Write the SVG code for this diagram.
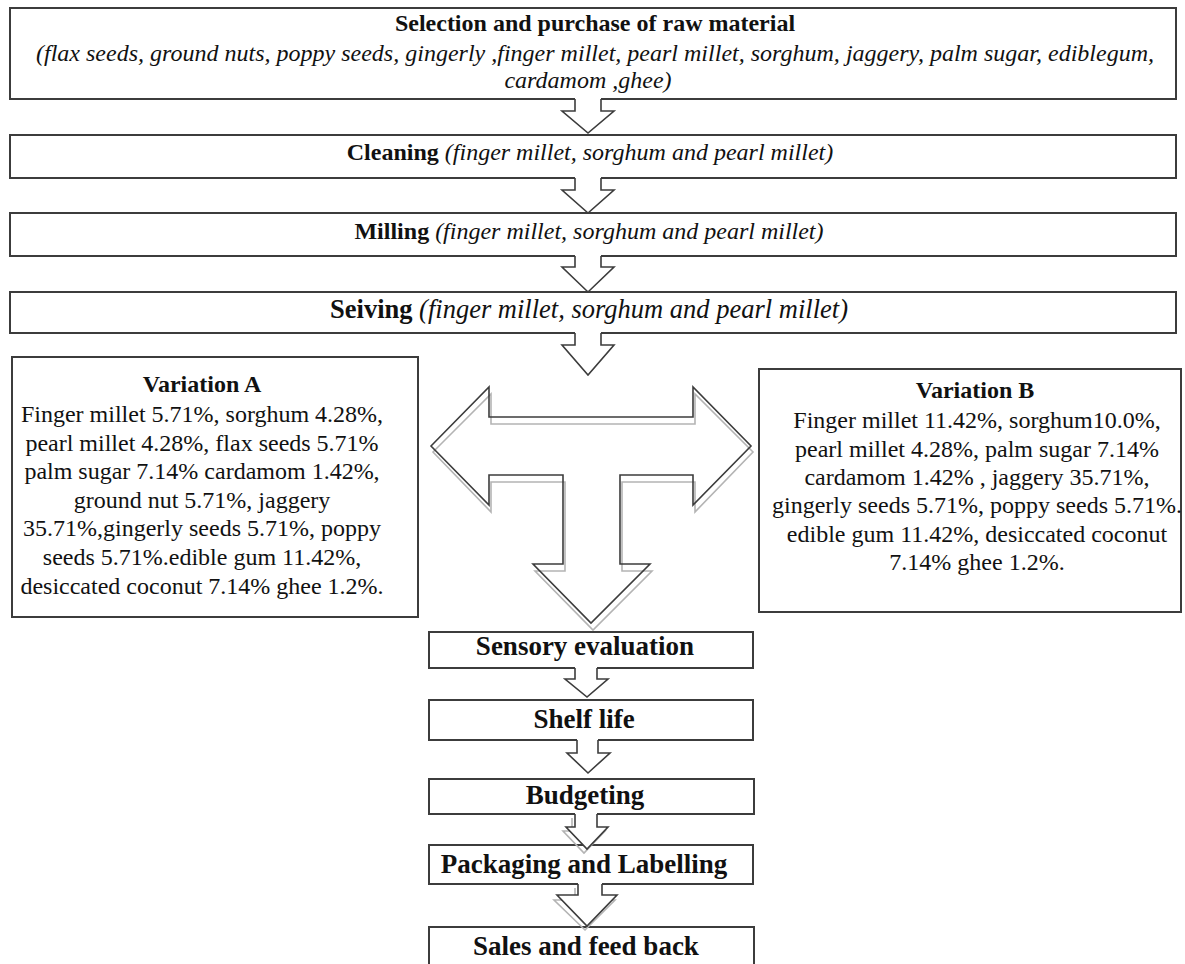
<svg xmlns="http://www.w3.org/2000/svg" width="1185" height="964" viewBox="0 0 1185 964">
<style>
.box{fill:#fff;stroke:#3c3c3c;stroke-width:2}
.af{fill:#fff;stroke:none}
.as{fill:none;stroke:#3c3c3c;stroke-width:1.6;stroke-linejoin:miter}
.sh{fill:none;stroke:#b4b4b4;stroke-width:1.6}
.t{font-family:"Liberation Serif","Times New Roman",serif;fill:#111}
.b{font-weight:bold}
.i{font-style:italic}
.v{font-size:24px;text-anchor:middle}
.s{font-size:27px;font-weight:bold;text-anchor:middle}
</style>
<rect width="1185" height="964" fill="#fff"/>
<g id="n1">
<rect class="box" x="10" y="8" width="1166" height="91"/>
<text class="t b" x="595" y="31" font-size="24" text-anchor="middle">Selection and purchase of raw material</text>
<text class="t i" x="595" y="61" font-size="24" text-anchor="middle" textLength="1118" lengthAdjust="spacing">(flax seeds, ground nuts, poppy seeds, gingerly ,finger millet, pearl millet,  sorghum, jaggery, palm sugar, ediblegum,</text>
<text class="t i" x="588" y="88" font-size="24" text-anchor="middle">cardamom ,ghee)</text>
</g>
<g id="n2">
<rect class="box" x="10" y="135" width="1166" height="43"/>
<text class="t" x="590" y="160" font-size="24" text-anchor="middle"><tspan class="b">Cleaning</tspan><tspan class="i"> (finger millet, sorghum and pearl millet)</tspan></text>
</g>
<g id="n3">
<rect class="box" x="10" y="213" width="1166" height="43"/>
<text class="t" x="589" y="239" font-size="24" text-anchor="middle"><tspan class="b">Milling</tspan><tspan class="i"> (finger millet, sorghum and pearl millet)</tspan></text>
</g>
<g id="n4">
<rect class="box" x="10" y="292" width="1166" height="41"/>
<text class="t" x="589" y="318" font-size="26.5" text-anchor="middle"><tspan class="b">Seiving</tspan><tspan class="i"> (finger millet, sorghum and pearl millet)</tspan></text>
</g>
<g id="nA">
<rect class="box" x="12" y="357" width="406" height="260"/>
<text class="t v b" x="202" y="392">Variation A</text>
<text class="t v" x="202" y="422">Finger millet 5.71%, sorghum 4.28%,</text>
<text class="t v" x="202" y="451">pearl millet  4.28%, flax seeds 5.71%</text>
<text class="t v" x="202" y="479">palm sugar 7.14% cardamom  1.42%,</text>
<text class="t v" x="202" y="508">ground nut 5.71%, jaggery</text>
<text class="t v" x="202" y="536">35.71%,gingerly seeds 5.71%, poppy</text>
<text class="t v" x="202" y="565">seeds 5.71%.edible gum 11.42%,</text>
<text class="t v" x="202" y="594">desiccated  coconut 7.14% ghee 1.2%.</text>
</g>
<g id="nB">
<rect class="box" x="759" y="369" width="422" height="243"/>
<text class="t v b" x="975" y="398">Variation B</text>
<text class="t v" x="977" y="428">Finger millet 11.42%, sorghum10.0%,</text>
<text class="t v" x="977" y="457">pearl millet  4.28%, palm  sugar 7.14%</text>
<text class="t v" x="977" y="485">cardamom 1.42% , jaggery 35.71%,</text>
<text class="t v" x="977" y="513">gingerly seeds 5.71%, poppy seeds 5.71%.</text>
<text class="t v" x="977" y="542">edible gum  11.42%, desiccated  coconut</text>
<text class="t v" x="977" y="570">7.14% ghee 1.2%.</text>
</g>
<g id="n5">
<rect class="box" x="429" y="632" width="324" height="36"/>
<text class="t s" x="585" y="655">Sensory evaluation</text>
</g>
<g id="n6">
<rect class="box" x="429" y="700" width="324" height="40"/>
<text class="t s" x="584" y="728">Shelf life</text>
</g>
<g id="n7">
<rect class="box" x="429" y="779" width="325" height="35"/>
<text class="t s" x="585" y="804">Budgeting</text>
</g>
<g id="n8">
<rect class="box" x="429" y="845" width="324" height="39"/>
<text class="t s" x="584" y="873">Packaging and Labelling</text>
</g>
<g id="n9">
<rect class="box" x="429" y="927" width="325" height="50"/>
<text class="t s" x="586" y="955">Sales and feed back</text>
</g>
<g id="connectors">
<!-- top block arrows -->
<path class="af" d="M575,97 H601 V111 H614 L588,133 L562,111 H575 Z"/>
<path class="as" d="M575,99 V111 H562 L588,133 L614,111 H601 V99"/>
<path class="af" d="M575,176 H601 V190 H614 L588,213 L562,190 H575 Z"/>
<path class="as" d="M575,178 V190 H562 L588,213 L614,190 H601 V178"/>
<path class="af" d="M575,254 H601 V267 H614 L588,292 L562,267 H575 Z"/>
<path class="as" d="M575,256 V267 H562 L588,292 L614,267 H601 V256"/>
<path class="af" d="M575,331 H601 V345 H614 L588,375 L562,345 H575 Z"/>
<path class="as" d="M575,333 V345 H562 L588,375 L614,345 H601 V333"/>
<!-- T-shaped three-way arrow -->
<path class="sh" d="M433,452 L491,394 V424 H695 V394 L753,452 L695,512 V482 H622 V571 H652 L593,630 L535,571 H565 V482 H491 V512 Z"/>
<path class="as" d="M431,446 L489,387 V417 H693 V387 L751,446 L693,505 V475 H620 V564 H650 L591,623 L533,564 H563 V475 H489 V505 Z"/>
<!-- bottom block arrows -->
<path class="af" d="M575,666 H597 V679 H608 L587,697 L565,679 H575 Z"/>
<path class="as" d="M575,668 V679 H565 L587,697 L608,679 H597 V668"/>
<path class="af" d="M577,738 H598 V753 H610 L588,773 L567,753 H577 Z"/>
<path class="as" d="M577,740 V753 H567 L588,773 L610,753 H598 V740"/>
<path class="sh" d="M572,818 V831 H563 L584,853 L605,831 H595 V818"/>
<path class="af" d="M575,812 H597 V827 H608 L587,849 L566,827 H575 Z"/>
<path class="as" d="M575,814 V827 H566 L587,849 L608,827 H597 V814"/>
<path class="sh" d="M575,888 V900 H554 L585,930 L615,900 H599 V888"/>
<path class="af" d="M578,882 H602 V895 H617 L587,926 L557,895 H578 Z"/>
<path class="as" d="M578,884 V895 H557 L587,926 L617,895 H602 V884"/>
</g>
</svg>
